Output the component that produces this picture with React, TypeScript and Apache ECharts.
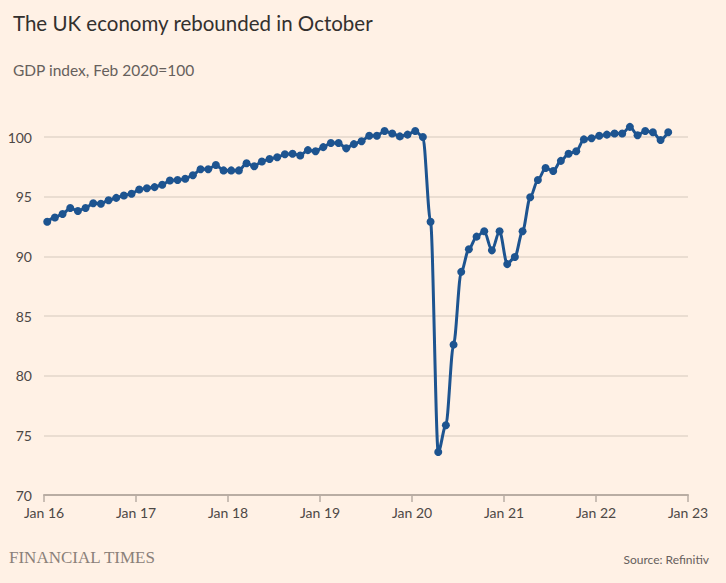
import React, { useEffect, useRef } from "react";
import * as echarts from "echarts";

// Monthly GDP index (Feb 2020 = 100), Jan 2016 .. Oct 2022
const startYear = 2016;
const gdpIndex: number[] = [
  92.9, 93.25, 93.55, 94.05, 93.8, 94.05, 94.45, 94.4, 94.7, 94.9, 95.1, 95.25, // 2016
  95.6, 95.7, 95.8, 96.0, 96.35, 96.4, 96.5, 96.8, 97.3, 97.3, 97.65, 97.2, // 2017
  97.2, 97.2, 97.8, 97.55, 97.95, 98.15, 98.3, 98.55, 98.6, 98.45, 98.9, 98.8, // 2018
  99.15, 99.5, 99.5, 99.05, 99.4, 99.65, 100.1, 100.1, 100.5, 100.3, 100.05, 100.2, // 2019
  100.5, 100.0, 92.9, 73.6, 75.85, 82.6, 88.7, 90.6, 91.65, 92.1, 90.5, 92.1, // 2020
  89.35, 89.95, 92.1, 94.95, 96.4, 97.4, 97.15, 98.0, 98.6, 98.8, 99.8, 99.9, // 2021
  100.1, 100.2, 100.3, 100.3, 100.85, 100.15, 100.5, 100.4, 99.75, 100.4, // 2022
];
const xTickLabels = ["Jan 16", "Jan 17", "Jan 18", "Jan 19", "Jan 20", "Jan 21", "Jan 22", "Jan 23"];
const yTicks = [70, 75, 80, 85, 90, 95, 100];

const title = "The UK economy rebounded in October";
const subtitle = "GDP index, Feb 2020=100";
const source = "Source: Refinitiv";
const brand = "FINANCIAL TIMES";

export default function App() {
  const ref = useRef<HTMLDivElement>(null);
  useEffect(() => {
    if (!ref.current) return;
    const chart = echarts.init(ref.current, undefined, { renderer: "svg" });
    // months since Jan 2016, plotted mid-month
    const data = gdpIndex.map((v, i) => [i + 0.42, v]);
    chart.setOption({
      animation: false,
      backgroundColor: "#fff1e5",
      textStyle: { fontFamily: "Lato, 'Open Sans', sans-serif" },
      title: [
        {
          text: title,
          left: 8,
          top: 7,
          textStyle: { fontSize: 20.5, fontWeight: "normal", color: "#33302e", fontFamily: "Lato, sans-serif" },
        },
        {
          text: subtitle,
          left: 8,
          top: 57,
          textStyle: { fontSize: 15.5, fontWeight: "normal", color: "#66605c", fontFamily: "Lato, sans-serif" },
        },
      ],
      graphic: [
        {
          type: "text",
          left: 9,
          top: 549,
          style: {
            text: brand,
            font: "normal 17px 'Liberation Serif', serif",
            fill: "#8a8079",
          },
        },
        {
          type: "text",
          right: 17,
          top: 553,
          style: {
            text: source,
            font: "normal 12px Lato, sans-serif",
            fill: "#66605c",
          },
        },
      ],
      grid: { left: 44, right: 38, top: 137, bottom: 88 },
      xAxis: {
        type: "value",
        min: 0,
        max: (xTickLabels.length - 1) * 12,
        interval: 12,
        axisLine: { show: true, lineStyle: { color: "#b9ada3", width: 2 } },
        axisTick: { show: true, length: 7, lineStyle: { color: "#b9ada3", width: 1.5 } },
        splitLine: { show: false },
        axisLabel: {
          color: "#4d4845",
          fontSize: 14,
          margin: 10,
          formatter: (v: number) => xTickLabels[Math.round(v / 12)] ?? `Jan ${startYear - 2000 + v / 12}`,
        },
      },
      yAxis: {
        type: "value",
        min: yTicks[0],
        max: yTicks[yTicks.length - 1],
        interval: 5,
        axisLine: { show: false },
        axisTick: { show: false },
        splitLine: { show: true, lineStyle: { color: "#e3d6ca", width: 1.5 } },
        axisLabel: { color: "#4d4845", fontSize: 14, margin: 12 },
      },
      series: [
        {
          type: "line",
          data,
          clip: false,
          smooth: 0.3,
          smoothMonotone: "x",
          symbol: "circle",
          symbolSize: 8,
          showSymbol: true,
          lineStyle: { color: "#1d5490", width: 3 },
          itemStyle: { color: "#1d5490" },
        },
      ],
    });
    return () => chart.dispose();
  }, []);
  return (
    <div
      ref={ref}
      style={{ position: "fixed", left: 0, top: 0, width: 726, height: 583 }}
    />
  );
}
